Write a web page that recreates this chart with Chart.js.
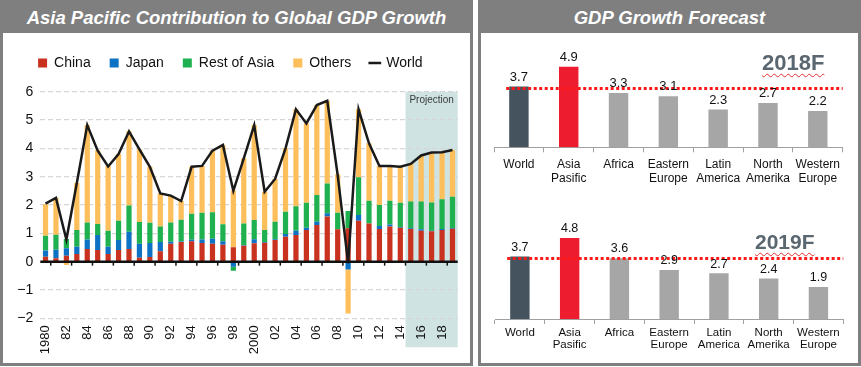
<!DOCTYPE html>
<html>
<head>
<meta charset="utf-8">
<script src="https://cdn.jsdelivr.net/npm/chart.js@4/dist/chart.umd.min.js"></script>
<style>
  body { margin:0; width:861px; height:367px; position:relative; overflow:hidden; background:#fff;
         font-family:"Liberation Sans", Arial, sans-serif; }
  .panel { position:absolute; top:0; height:366px; border:3px solid #7f7f7f; box-sizing:border-box; background:#fff; }
  .head { height:30px; line-height:30px; background:#7f7f7f; color:#fff; font-weight:bold; font-style:italic;
          font-size:18.5px; text-align:center; }
  canvas { position:absolute; }
  .yr { position:absolute; font-weight:bold; color:#5b6770; line-height:1;
        text-decoration:underline wavy #e03030; text-decoration-thickness:1px; text-underline-offset:3px; }
</style>
</head>
<body>
<div class="panel" style="left:0;width:473px"><div class="head">Asia Pacific Contribution to Global GDP Growth</div></div>
<div class="panel" style="left:478px;width:383px"><div class="head">GDP Growth Forecast</div></div>
<canvas id="contrib" width="466" height="330" style="left:3px;top:33px"></canvas>
<canvas id="f2018" width="372" height="152" style="left:483px;top:36px"></canvas>
<canvas id="f2019" width="372" height="163" style="left:483px;top:200px"></canvas>
<div class="yr" style="left:762px;top:52px;font-size:22px">2018F</div>
<div class="yr" style="left:755px;top:231px;font-size:21px">2019F</div>
<script>
// data
const years = ['1980','1981','1982','1983','1984','1985','1986','1987','1988','1989',
  '1990','1991','1992','1993','1994','1995','1996','1997','1998','1999',
  '2000','2001','2002','2003','2004','2005','2006','2007','2008','2009',
  '2010','2011','2012','2013','2014','2015','2016','2017','2018','2019'];
const yearTicks = ['1980','82','84','86','88','90','92','94','96','98','2000','02','04','06','08','10','12','14','16','18'];
const china  = [0.17,0.12,0.21,0.27,0.45,0.41,0.27,0.41,0.45,0.14,0.16,0.37,0.63,0.69,0.72,0.66,0.63,0.6,0.51,0.56,
  0.65,0.67,0.76,0.88,0.94,1.12,1.29,1.59,1.14,1.18,1.44,1.35,1.15,1.24,1.2,1.15,1.09,1.07,1.12,1.16];
const japan  = [0.22,0.3,0.26,0.26,0.33,0.53,0.26,0.35,0.61,0.49,0.5,0.32,0.07,0.02,0.05,0.12,0.18,0.12,-0.18,0.02,
  0.14,0.02,0.03,0.1,0.15,0.08,0.12,0.12,-0.02,-0.28,0.21,0.0,0.11,0.07,0.02,0.03,0.05,0.02,0.03,0.03];
const restOfAsia = [0.52,0.53,0.33,0.59,0.6,0.39,0.56,0.68,0.92,0.77,0.71,0.55,0.68,0.77,0.92,0.95,0.93,0.6,-0.14,0.77,
  0.68,0.43,0.62,0.78,0.87,0.88,0.94,1.05,0.59,0.61,1.33,0.8,0.74,0.84,0.86,0.94,0.98,1.0,1.05,1.1];
const others = [1.12,1.3,-0.12,1.66,3.44,2.6,2.29,2.36,2.62,2.56,1.98,1.17,0.95,0.66,1.66,1.65,2.18,2.8,2.0,2.3,
  3.35,1.35,1.51,2.24,3.42,2.8,3.18,2.92,1.36,-1.55,2.4,2.03,1.38,1.23,1.27,1.35,1.62,1.73,1.66,1.65];
const world  = [2.05,2.25,0.78,2.78,4.82,3.92,3.36,3.8,4.6,3.96,3.35,2.41,2.33,2.14,3.35,3.38,3.92,4.12,2.5,3.65,
  4.82,2.47,2.92,4.0,5.38,4.88,5.53,5.68,3.05,-0.05,5.38,4.18,3.38,3.38,3.35,3.45,3.75,3.85,3.86,3.94];
const projectionFrom = '2015';

const regions = [['World'],['Asia','Pasific'],['Africa'],['Eastern','Europe'],['Latin','America'],['North','Amerika'],['Western','Europe']];
const growth2018 = [3.7,4.9,3.3,3.1,2.3,2.7,2.2];
const growth2019 = [3.7,4.8,3.6,2.9,2.7,2.4,1.9];
const regionColors = ['#44535e','#ed1c2e','#a6a6a6','#a6a6a6','#a6a6a6','#a6a6a6','#a6a6a6'];

const FONT = '"Liberation Sans", Arial, sans-serif';
Chart.defaults.font.family = FONT;
Chart.defaults.color = '#111';

// left chart helpers
const contribExtras = {
  id: 'contribExtras',
  beforeDraw(chart) {
    const {ctx, chartArea, scales} = chart;
    const i = years.indexOf(projectionFrom);
    const left = (scales.x.getPixelForValue(i - 1) + scales.x.getPixelForValue(i)) / 2;
    const top = scales.y.getPixelForValue(6);
    ctx.save();
    ctx.fillStyle = '#cfe3e3';
    ctx.fillRect(left, top, chartArea.right - left, chartArea.bottom + 29 - top);
    ctx.fillStyle = '#3a3a3a';
    ctx.font = '10px ' + FONT;
    ctx.textAlign = 'center';
    ctx.textBaseline = 'top';
    ctx.fillText('Projection', (left + chartArea.right) / 2, top + 4);
    ctx.restore();
  },
  afterDatasetsDraw(chart) {
    const {ctx, chartArea, scales} = chart;
    const y0 = scales.y.getPixelForValue(0);
    ctx.save();
    ctx.strokeStyle = '#111';
    ctx.lineWidth = 2.5;
    ctx.beginPath();
    ctx.moveTo(chartArea.left, y0);
    ctx.lineTo(chartArea.right, y0);
    ctx.stroke();
    ctx.lineWidth = 1.5;
    for (let i = 0; i < years.length - 1; i += 2) {
      const x = (scales.x.getPixelForValue(i) + scales.x.getPixelForValue(i + 1)) / 2;
      ctx.beginPath();
      ctx.moveTo(x, y0);
      ctx.lineTo(x, y0 + 4);
      ctx.stroke();
    }
    ctx.restore();
  }
};

new Chart(document.getElementById('contrib'), {
  type: 'bar',
  data: {
    labels: years,
    datasets: [
      {label: 'China', data: china, backgroundColor: '#c8321e', stack: 'a', pointStyle: 'rect'},
      {label: 'Japan', data: japan, backgroundColor: '#0e72c4', stack: 'a', pointStyle: 'rect'},
      {label: 'Rest of Asia', data: restOfAsia, backgroundColor: '#1fb050', stack: 'a', pointStyle: 'rect'},
      {label: 'Others', data: others, backgroundColor: '#fdbf5b', stack: 'a', pointStyle: 'rect'},
      {label: 'World', type: 'line', data: world, borderColor: '#1a1a1a', backgroundColor: '#1a1a1a',
       borderWidth: 2.5, pointRadius: 0, tension: 0, stack: 'w', order: -1, pointStyle: 'line'}
    ]
  },
  options: {
    responsive: false,
    animation: false,
    layout: {padding: {top: 4, right: 11.3, left: 0, bottom: 0}},
    datasets: {bar: {barPercentage: 0.5, categoryPercentage: 1}},
    plugins: {
      tooltip: {enabled: false},
      legend: {
        labels: {
          usePointStyle: true, boxWidth: 9, boxHeight: 9, padding: 19,
          font: {size: 14}, color: '#111',
          sort: (a, b) => a.datasetIndex - b.datasetIndex
        }
      }
    },
    scales: {
      gap: {
        type: 'category', position: 'top',
        grid: {display: false, drawTicks: false},
        border: {display: false},
        ticks: {display: false},
        afterFit: s => { s.height = 11.7; }
      },
      x: {
        stacked: true,
        grid: {display: false, drawTicks: false},
        border: {display: false},
        ticks: {
          autoSkip: false, maxRotation: 90, minRotation: 90, padding: 7,
          font: {size: 13}, color: '#111',
          callback: (v, i) => i % 2 === 0 ? yearTicks[i / 2] : null
        },
        afterFit: s => { s.height = 44.7; }
      },
      y: {
        stacked: true, min: -2, max: 6,
        grid: {
          color: c => c.tick.value === 0 ? 'rgba(0,0,0,0)' : '#d6d6d6',
          lineWidth: 1.2, drawTicks: false
        },
        border: {display: false, dash: [5, 3]},
        ticks: {
          stepSize: 1, padding: 7, font: {size: 14}, color: '#111',
          callback: v => v < 0 ? '\u2212' + Math.abs(v) : String(v)
        },
        afterFit: s => { s.width = 37.3; }
      }
    }
  },
  plugins: [contribExtras]
});

// forecast charts
const forecastExtras = {
  id: 'forecastExtras',
  afterDatasetsDraw(chart, args, opts) {
    const {ctx, chartArea, scales} = chart;
    const meta = chart.getDatasetMeta(0);
    const vals = chart.data.datasets[0].data;
    ctx.save();
    // world reference line
    const first = meta.data[0];
    const yw = scales.y.getPixelForValue(vals[0]) + 2;
    ctx.strokeStyle = '#ff1a1a';
    ctx.lineWidth = 3;
    ctx.setLineDash([3, 2.5]);
    ctx.beginPath();
    ctx.moveTo(first.x - first.width / 2 - 3, yw);
    ctx.lineTo(chartArea.right, yw);
    ctx.stroke();
    ctx.setLineDash([]);
    // value labels
    ctx.fillStyle = '#111';
    ctx.font = opts.size + 'px ' + FONT;
    ctx.textAlign = 'center';
    ctx.textBaseline = 'bottom';
    meta.data.forEach((bar, i) => {
      ctx.fillText(vals[i].toFixed(1), bar.x, bar.y - 3);
    });
    ctx.restore();
  }
};

function forecastChart(id, values, pad, axisH, fontSize, lineH, tickPad) {
  return new Chart(document.getElementById(id), {
    type: 'bar',
    data: {
      labels: regions,
      datasets: [{data: values, backgroundColor: regionColors, barPercentage: 0.39, categoryPercentage: 1}]
    },
    options: {
      responsive: false,
      animation: false,
      layout: {padding: pad},
      plugins: {legend: {display: false}, tooltip: {enabled: false}, forecastExtras: {size: fontSize + 1}},
      scales: {
        x: {
          grid: {offset: true, drawOnChartArea: false, drawTicks: true, tickLength: 5, color: '#a0a0a0'},
          border: {display: true, color: '#a0a0a0', width: 1},
          ticks: {autoSkip: false, maxRotation: 0, padding: tickPad, color: '#111',
                  font: {size: fontSize, lineHeight: lineH}},
          afterFit: s => { s.height = axisH; }
        },
        y: {display: false, min: 0, max: 6}
      }
    },
    plugins: [forecastExtras]
  });
}

forecastChart('f2018', growth2018, {left: 11, right: 12.3, top: 12.6, bottom: 0}, 40.7, 12, 1.12, 6);
forecastChart('f2019', growth2019, {left: 12, right: 11.7, top: 17.6, bottom: 0}, 44, 11.5, 1.05, 3);
</script>
</body>
</html>
